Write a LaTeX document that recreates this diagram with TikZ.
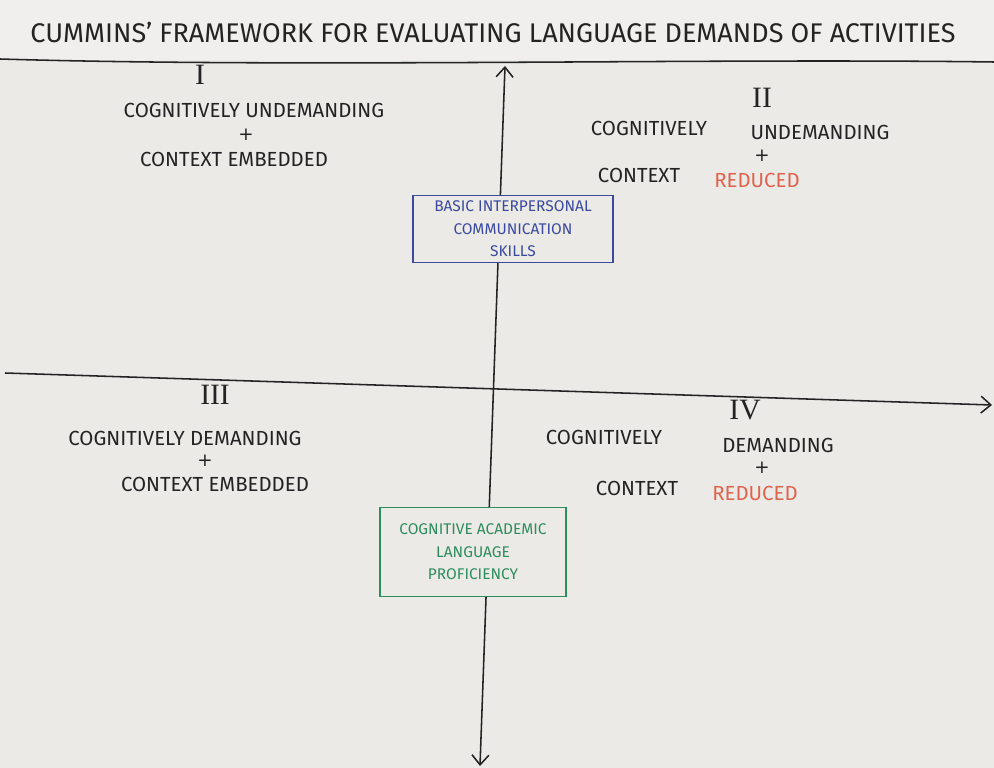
\documentclass[tikz,border=0pt]{standalone}
\usepackage{fontspec}
\setmainfont{Fira Sans}
\newfontfamily\numfont{Liberation Serif}
\newfontfamily\plusfont{DejaVu Sans}
\usetikzlibrary{arrows.meta}
\definecolor{paper}{HTML}{EBEAE7}
\definecolor{ink}{HTML}{232323}
\definecolor{redink}{HTML}{E0634E}
\definecolor{blueink}{HTML}{3B4A9E}
\definecolor{greenink}{HTML}{2E8C5E}
\begin{document}
\begin{tikzpicture}[x=0.025cm, y=-0.025cm,
  txt/.style={text=ink, inner sep=0pt, font=\fontsize{14.5}{16}\selectfont},
  red/.style={text=redink, inner sep=0pt, font=\fontsize{14.5}{16}\selectfont},
  plus/.style={text=ink, inner sep=0pt, font=\plusfont\fontsize{13}{13}\selectfont},
  num/.style={text=ink, inner sep=0pt, font=\numfont\fontsize{21}{22}\selectfont},
  axis/.style={draw=ink, line width=1.1pt},
  tip/.style={-{Straight Barb[length=7pt, width=12pt]}},
  boxed/.style={draw, fill=paper, line width=1.2pt, align=center, inner sep=0pt,
    font=\fontsize{11}{16}\selectfont}]
\fill[paper] (0,0) rectangle (994,768);
\fill[white, opacity=0.25] (0,0) rectangle (994,60);
\useasboundingbox (0,0) rectangle (994,768);
% title
\node[txt, font=\fontsize{19.2}{20}\selectfont] (title) at (493,32) {CUMMINS' FRAMEWORK FOR EVALUATING LANGUAGE DEMANDS OF ACTIVITIES};
% axes
\coordinate (topl) at (0,59);
\coordinate (topr) at (994,62);
\coordinate (midl) at (5,373);
\coordinate (midr) at (992,405);
\coordinate (vtop) at (505,66);
\coordinate (vbot) at (480,766);
\draw[axis] (topl) .. controls (300,68) and (700,58) .. (topr);
\draw[axis, tip] (midl) -- (midr);
\draw[axis, {Straight Barb[length=7pt, width=12pt]}-{Straight Barb[length=7pt, width=12pt]}] (vbot) -- (vtop);
% boxes
\node[boxed, draw=blueink, text=blueink, minimum width=5cm, minimum height=1.675cm] (bics) at (513,229)
  {BASIC INTERPERSONAL\\COMMUNICATION\\SKILLS};
\node[boxed, draw=greenink, text=greenink, minimum width=4.65cm, minimum height=2.225cm] (calp) at (473,552)
  {COGNITIVE ACADEMIC\\LANGUAGE\\PROFICIENCY};
% quadrant I
\node[num] (numI) at (200,75) {I};
\node[txt] (qIa) at (254,110) {COGNITIVELY UNDEMANDING};
\node[plus] (qIp) at (246,135) {+};
\node[txt] (qIb) at (234,159) {CONTEXT EMBEDDED};
% quadrant II
\node[num] (numII) at (762,98) {II};
\node[txt] (qIIa) at (649,128) {COGNITIVELY};
\node[txt] (qIIb) at (820,132) {UNDEMANDING};
\node[plus] (qIIp) at (762,156) {+};
\node[txt] (qIIc) at (639,175) {CONTEXT};
\node[red] (qIId) at (757,180) {REDUCED};
% quadrant III
\node[num] (numIII) at (215,395) {III};
\node[txt] (qIIIa) at (185,438) {COGNITIVELY DEMANDING};
\node[plus] (qIIIp) at (205,461) {+};
\node[txt] (qIIIb) at (215,484) {CONTEXT EMBEDDED};
% quadrant IV
\node[num] (numIV) at (745,410) {IV};
\node[txt] (qIVa) at (604,437) {COGNITIVELY};
\node[txt] (qIVb) at (778,445) {DEMANDING};
\node[plus] (qIVp) at (762,468) {+};
\node[txt] (qIVc) at (637,488) {CONTEXT};
\node[red] (qIVd) at (755,493) {REDUCED};
\end{tikzpicture}
\end{document}
